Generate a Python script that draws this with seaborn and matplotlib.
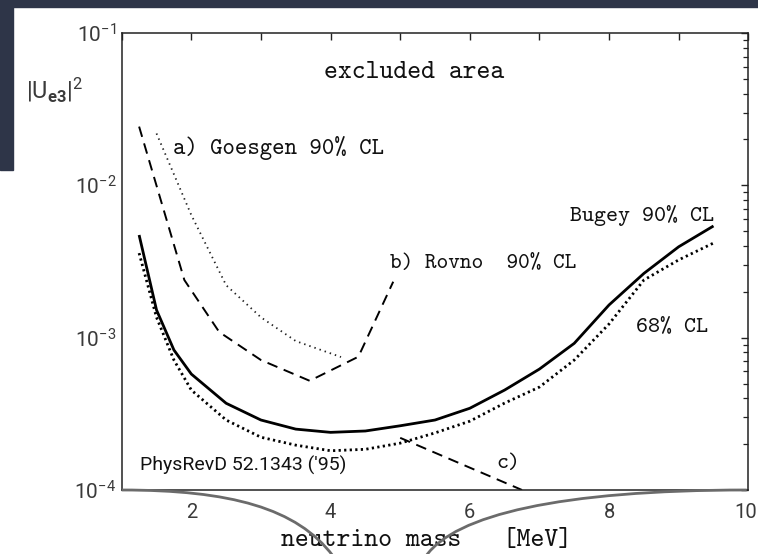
import numpy as np
import pandas as pd
import matplotlib
matplotlib.use("Agg")
import matplotlib.pyplot as plt
import seaborn as sns
from matplotlib.ticker import MultipleLocator, LogLocator, FuncFormatter, NullFormatter
from matplotlib.patches import Rectangle, PathPatch
from matplotlib.path import Path
from matplotlib.transforms import ScaledTranslation

# Bugey exclusion contours (neutrino mass in MeV, |U_e3|^2)
bugey_mass = [1.25, 1.5, 1.75, 2.0, 2.5, 3.0, 3.5, 4.0, 4.5, 5.0, 5.5, 6.0, 6.5, 7.0, 7.5, 8.0, 8.5, 9.0, 9.5]
bugey_90 = [4.72e-3, 1.52e-3, 8.3e-4, 5.77e-4, 3.71e-4, 2.88e-4, 2.51e-4, 2.39e-4, 2.44e-4, 2.64e-4,
            2.88e-4, 3.44e-4, 4.53e-4, 6.22e-4, 9.18e-4, 1.64e-3, 2.64e-3, 3.95e-3, 5.41e-3]
bugey_68 = [3.59e-3, 1.36e-3, 7.13e-4, 4.53e-4, 2.88e-4, 2.22e-4, 1.97e-4, 1.81e-4, 1.85e-4, 2.03e-4,
            2.37e-4, 2.83e-4, 3.72e-4, 4.74e-4, 7.13e-4, 1.23e-3, 2.39e-3, 3.24e-3, 4.18e-3]

# Goesgen 90% CL
goesgen_mass = [1.5, 2.0, 2.5, 3.0, 3.5, 4.15]
goesgen_90 = [2.19e-2, 6.38e-3, 2.21e-3, 1.36e-3, 9.5e-4, 7.46e-4]

# Rovno 90% CL
rovno_mass = [1.25, 1.9, 2.4, 3.0, 3.7, 4.4, 4.9]
rovno_90 = [2.43e-2, 2.39e-3, 1.09e-3, 7.13e-4, 5.21e-4, 7.5e-4, 2.33e-3]

# curve c)
c_mass = [5.0, 6.75]
c_limit = [2.2e-4, 1.0e-4]

x_labeled = [2, 4, 6, 8, 10]

sns.set_theme(style="white")
plt.rcParams["font.family"] = ["Roboto", "DejaVu Sans"]
plt.rcParams["mathtext.fontset"] = "custom"
plt.rcParams["mathtext.rm"] = "Roboto"
plt.rcParams["mathtext.it"] = "Roboto:italic"
plt.rcParams["mathtext.bf"] = "Roboto:bold"

W, H = 758, 554
fig = plt.figure(figsize=(W / 100, H / 100), dpi=100)
fig.patch.set_facecolor("white")

x0, x1, ytop, ybot = 121.7, 748.3, 33.0, 490.0
ax = fig.add_axes([x0 / W, 1 - ybot / H, (x1 - x0) / W, (ybot - ytop) / H])
ax.set_facecolor("white")

def draw(x, y, **kw):
    df = pd.DataFrame({"m": x, "u": y})
    sns.lineplot(data=df, x="m", y="u", ax=ax, sort=False, estimator=None, **kw)

draw(bugey_mass, bugey_90, color="black", lw=2.0, solid_capstyle="butt")
draw(bugey_mass, bugey_68, color="black", lw=2.0, linestyle=(0, (0.8, 1.2)))
draw(goesgen_mass, goesgen_90, color="#222222", lw=1.3, linestyle=(0, (0.8, 2.2)))
draw(rovno_mass, rovno_90, color="black", lw=1.4, linestyle=(0, (5.5, 3.5)))
draw(c_mass, c_limit, color="black", lw=1.4, linestyle=(0, (5.5, 3.5)))

ax.set_yscale("log")
ax.set_xlim(1, 10)
ax.set_ylim(1e-4, 1e-1)
ax.set_xlabel("")
ax.set_ylabel("")

ax.xaxis.set_major_locator(MultipleLocator(1))
ax.xaxis.set_major_formatter(FuncFormatter(lambda v, p: f"{int(round(v))}" if int(round(v)) in x_labeled else ""))
ax.yaxis.set_major_locator(LogLocator(base=10))
ax.yaxis.set_minor_locator(LogLocator(base=10, subs=np.arange(2, 10)))
ax.yaxis.set_minor_formatter(NullFormatter())

tick_col = "#3a3a3a"
ax.tick_params(axis="both", which="both", direction="in", top=True, right=True, colors="#222222",
               labelcolor=tick_col)
ax.tick_params(axis="both", which="major", length=5, width=1.0)
ax.tick_params(axis="y", which="minor", length=3.5, width=0.9)
ax.tick_params(axis="x", which="major", labelsize=14.5, pad=9.5)
ax.tick_params(axis="y", which="major", labelsize=15, pad=4)
for s in ax.spines.values():
    s.set_color("#222222")
    s.set_linewidth(1.1)

# nudge the last x label so it stays inside the figure edge
fig.canvas.draw()
for tick in ax.xaxis.get_major_ticks():
    if tick.label1.get_text() == "10":
        tick.label1.set_transform(tick.label1.get_transform()
                                  + ScaledTranslation(-2.5 / 100, 0, fig.dpi_scale_trans))

tt = "cmtt10"
ink = "#111111"
ax.text(414 / W, 1 - 73 / H, "excluded area", transform=fig.transFigure, ha="center", va="center",
        family=tt, fontsize=19, color=ink)
ax.text(173 / W, 1 - 148 / H, "a) Goesgen 90% CL", transform=fig.transFigure, ha="left", va="center",
        family=tt, fontsize=17, color=ink)
ax.text(390 / W, 1 - 263 / H, "b) Rovno  90% CL", transform=fig.transFigure, ha="left", va="center",
        family=tt, fontsize=16, color=ink)
ax.text(714 / W, 1 - 215 / H, "Bugey 90% CL", transform=fig.transFigure, ha="right", va="center",
        family=tt, fontsize=16.5, color=ink)
ax.text(708 / W, 1 - 327 / H, "68% CL", transform=fig.transFigure, ha="right", va="center",
        family=tt, fontsize=16.5, color=ink)
ax.text(508 / W, 1 - 464 / H, "c)", transform=fig.transFigure, ha="center", va="center",
        family=tt, fontsize=16.5, color=ink)
ax.text(140 / W, 1 - 465 / H, "PhysRevD 52.1343 ('95)", transform=fig.transFigure, ha="left", va="center",
        family="Roboto", fontsize=14, color=ink)
fig.text(426 / W, 1 - 540 / H, "neutrino mass   [MeV]", ha="center", va="center",
         family=tt, fontsize=19, color=ink)
fig.text(55 / W, 1 - 90 / H, r"$|\mathrm{U}_{\mathbf{e3}}|^{2}$", ha="center", va="center",
         fontsize=17, color=tick_col)

# dark frame strips
navy = "#2e3548"
fig.patches.append(Rectangle((0, 1 - 7 / H), 1, 7 / H, transform=fig.transFigure, color=navy, zorder=10))
fig.patches.append(Rectangle((0, 1 - 170 / H), 12.5 / W, 170 / H, transform=fig.transFigure, color=navy, zorder=10))

# grey arcs along the bottom
def fig_pt(px, py):
    return (px / W, 1 - py / H)

arc_l = Path([fig_pt(121.7, 490), fig_pt(230, 490), fig_pt(297, 508), fig_pt(333, 556)],
             [Path.MOVETO, Path.CURVE4, Path.CURVE4, Path.CURVE4])
arc_r = Path([fig_pt(426, 556), fig_pt(455, 515), fig_pt(560, 490), fig_pt(746.7, 490)],
             [Path.MOVETO, Path.CURVE4, Path.CURVE4, Path.CURVE4])
for p in (arc_l, arc_r):
    fig.patches.append(PathPatch(p, transform=fig.transFigure, fill=False, edgecolor="#6b6b6b",
                                 lw=2.0, zorder=9))

fig.savefig("out.png", dpi=100, facecolor="white")
